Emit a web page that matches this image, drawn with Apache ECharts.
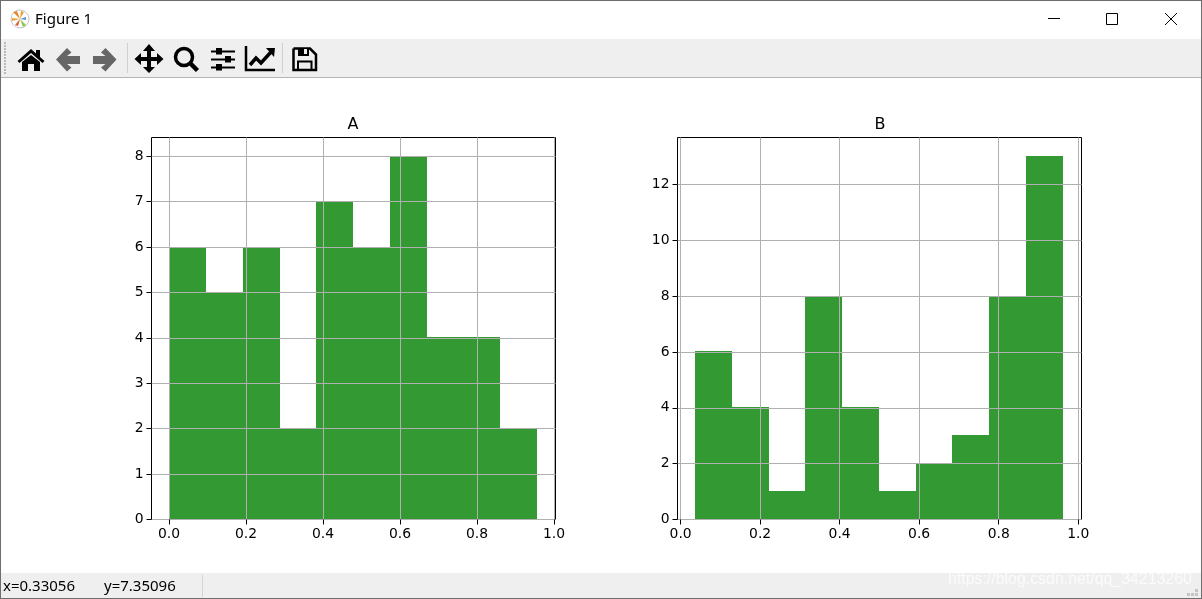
<!DOCTYPE html>
<html>
<head>
<meta charset="utf-8">
<title>Figure 1</title>
<script src="https://cdn.jsdelivr.net/npm/echarts@6/dist/echarts.min.js"></script>
<style>
html, body { margin: 0; padding: 0; background: #fff; overflow: hidden; }
#chart { width: 1202px; height: 599px; }
</style>
</head>
<body>
<div id="chart"></div>
<script>
// histogram bins
const edgesA = [0.0, 0.095, 0.191, 0.287, 0.381, 0.477, 0.573, 0.669, 0.764, 0.860, 0.956];
const countsA = [6, 5, 6, 2, 7, 6, 8, 4, 4, 2];
const edgesB = [0.035, 0.129, 0.222, 0.312, 0.406, 0.499, 0.592, 0.683, 0.776, 0.869, 0.962];
const countsB = [6, 4, 1, 8, 4, 1, 2, 3, 8, 13];

const xTicks = [0, 0.2, 0.4, 0.6, 0.8, 1];
const yTicksA = [0, 1, 2, 3, 4, 5, 6, 7, 8];
const yTicksB = [0, 2, 4, 6, 8, 10, 12];

const barColor = 'rgb(51,153,51)';
const gridColor = '#b0b0b0';
const labelFont = 'DejaVu Sans';

const toBins = (edges, counts) => counts.map((c, i) => [edges[i], edges[i + 1], c]);

// one rectangle per bin, through the axis scales (rounded so neighbours leave no seam)
const renderBin = (params, api) => {
    const p0 = api.coord([api.value(0), api.value(2)]);
    const p1 = api.coord([api.value(1), 0]);
    const x0 = Math.round(p0[0]);
    const y0 = Math.floor(p0[1]);
    return {
        type: 'rect',
        shape: { x: x0, y: y0, width: Math.round(p1[0]) - x0, height: Math.floor(p1[1]) - y0 },
        style: { fill: barColor }
    };
};

const makeX = (gridIndex, min, max) => ({
    type: 'value', gridIndex, min, max, z: 5,
    axisLine: { show: false, onZero: false },
    axisTick: { show: true, length: 5, customValues: xTicks, lineStyle: { color: '#000' } },
    axisLabel: {
        margin: 8, color: '#000', fontFamily: labelFont, fontSize: 13.9,
        customValues: xTicks, formatter: v => v.toFixed(1)
    },
    splitLine: { show: true, customValues: xTicks, lineStyle: { color: gridColor, width: 1 } }
});

const makeY = (gridIndex, max, ticks) => ({
    type: 'value', gridIndex, min: 0, max, z: 5,
    axisLine: { show: false, onZero: false },
    axisTick: { show: true, length: 5, customValues: ticks, lineStyle: { color: '#000' } },
    axisLabel: {
        margin: 8, color: '#000', fontFamily: labelFont, fontSize: 13.9,
        customValues: ticks
    },
    splitLine: { show: true, customValues: ticks, lineStyle: { color: gridColor, width: 1 } }
});

// window frame, toolbar and status bar
const rect = (x, y, width, height, fill) => ({
    type: 'rect', silent: true, shape: { x, y, width, height }, style: { fill }
});
const poly = (points, fill) => ({
    type: 'polygon', silent: true, shape: { points }, style: { fill }
});
const stroke = (points, color, lineWidth) => ({
    type: 'polyline', silent: true, shape: { points }, style: { fill: 'none', stroke: color, lineWidth }
});
const label = (text, x, y, fontSize, fill, fontFamily) => ({
    type: 'text', silent: true, x, y,
    style: { text, fontSize, fill, fontFamily: fontFamily || 'Noto Sans', textVerticalAlign: 'middle' }
});

const gripDots = [];
for (let y = 42; y <= 72; y += 3) gripDots.push(rect(4, y, 2, 2, '#b9b9b9'));
const cornerDots = [[1195, 589], [1191, 593], [1195, 593], [1187, 593]].map(d => rect(d[0], d[1], 3, 3, '#c4c4c4'));

const chrome = [
    rect(0, 39, 1202, 38, '#efefef'),
    rect(0, 77, 1202, 1, '#b4b4b4'),
    rect(0, 573, 1202, 25, '#efefef'),
    rect(0, 0, 1202, 1, '#6e6e6e'),
    rect(0, 598, 1202, 1, '#6e6e6e'),
    rect(0, 0, 1, 599, '#6e6e6e'),
    rect(1201, 0, 1, 599, '#6e6e6e'),
    rect(127, 43, 1, 30, '#cfcfcf'),
    rect(282, 43, 1, 30, '#cfcfcf'),
    rect(202, 575, 1, 22, '#d4d4d4'),
    ...gripDots,
    ...cornerDots,

    // logo
    { type: 'circle', silent: true, shape: { cx: 20, cy: 19, r: 9 }, style: { fill: '#fff', stroke: '#c4c4c4', lineWidth: 1 } },
    poly([[20, 19], [13, 12], [17, 11]], '#e8862a'),
    poly([[20, 19], [21, 11], [24, 12]], '#e8a030'),
    poly([[20, 19], [12, 21], [12, 18]], '#f0a030'),
    poly([[20, 19], [26, 25], [23, 27]], '#8cc84a'),
    poly([[20, 19], [26, 17], [26, 20]], '#5a8fd0'),
    poly([[20, 19], [18, 26], [15, 25]], '#d8602a'),
    label('Figure 1', 35, 20, 15, '#000'),

    // window buttons
    rect(1048, 18, 12, 1, '#000'),
    stroke([[1106.5, 13.5], [1117.5, 13.5], [1117.5, 24.5], [1106.5, 24.5], [1106.5, 13.5]], '#000', 1),
    stroke([[1165, 13], [1177, 25]], '#000', 1),
    stroke([[1177, 13], [1165, 25]], '#000', 1),

    // home
    poly([[31, 49], [36, 53.5], [36, 50], [40, 50], [40, 57], [44.5, 61], [42.5, 63], [31, 53], [19.5, 63], [17.5, 61]], '#000'),
    poly([[22, 62], [31, 55], [40, 62], [40, 71], [34, 71], [34, 64], [28, 64], [28, 71], [22, 71]], '#000'),
    // back / forward
    poly([[56, 59.5], [67, 48], [71.5, 52.5], [67, 56], [80, 56], [80, 64], [67, 64], [71.5, 67.5], [67, 71.5]], '#666'),
    poly([[116.5, 59.5], [105.5, 48], [101, 52.5], [105.5, 56], [93, 56], [93, 64], [105.5, 64], [101, 67.5], [105.5, 71.5]], '#666'),
    // pan
    poly([[149, 44], [155, 51], [151, 51], [151, 57], [157, 57], [157, 53], [163.5, 59], [157, 65], [157, 61], [151, 61], [151, 67], [155, 67], [149, 73], [143, 67], [147, 67], [147, 61], [141, 61], [141, 65], [134.5, 59], [141, 53], [141, 57], [147, 57], [147, 51], [143, 51]], '#000'),
    // zoom
    { type: 'circle', silent: true, shape: { cx: 184, cy: 57, r: 8.5 }, style: { fill: 'none', stroke: '#000', lineWidth: 3.5 } },
    stroke([[190, 63], [197.5, 70.5]], '#000', 4.5),
    // subplots
    rect(211, 50.5, 24, 2, '#000'),
    rect(211, 58.5, 24, 2, '#000'),
    rect(211, 66.5, 24, 2, '#000'),
    rect(216, 48, 6, 6.5, '#000'),
    rect(225, 56, 6, 6.5, '#000'),
    rect(216, 64, 6, 6.5, '#000'),
    // edit curves
    stroke([[246, 46], [246, 70], [275, 70]], '#000', 2.5),
    stroke([[250, 65], [256, 58], [261, 63], [271, 52]], '#000', 3.5),
    poly([[266, 48], [275, 48], [274, 57]], '#000'),
    // save
    stroke([[293.5, 48.5], [310, 48.5], [316, 54.5], [316, 70], [293.5, 70], [293.5, 48.5]], '#000', 2.5),
    rect(298, 48, 11, 8, '#000'),
    rect(304, 49, 3, 5, '#efefef'),
    stroke([[298, 70], [298, 61.5], [311.5, 61.5], [311.5, 70]], '#000', 2),

    // status bar
    label('x=0.33056', 3, 587, 15, '#000'),
    label('y=7.35096', 104, 587, 15, '#000'),
    label('https://blog.csdn.net/qq_34213260', 948, 580, 15.9, 'rgba(255,255,255,0.75)', 'Liberation Sans')
];
chrome.forEach(el => { el.z = 10; });

const myChart = echarts.init(document.getElementById('chart'), null, { renderer: 'canvas' });
myChart.setOption({
    animation: false,
    backgroundColor: '#fff',
    title: [
        { text: 'A', left: 348, top: 112, textAlign: 'center', textStyle: { color: '#000', fontFamily: labelFont, fontSize: 16, fontWeight: 'normal' } },
        { text: 'B', left: 875, top: 112, textAlign: 'center', textStyle: { color: '#000', fontFamily: labelFont, fontSize: 16, fontWeight: 'normal' } }
    ],
    grid: [
        { left: 151.5, top: 137.5, width: 404, height: 382, show: true, borderColor: '#000', borderWidth: 1, backgroundColor: '#fff' },
        { left: 677.5, top: 137.5, width: 404, height: 382, show: true, borderColor: '#000', borderWidth: 1, backgroundColor: '#fff' }
    ],
    xAxis: [makeX(0, -0.0455, 1.0039), makeX(1, -0.0078, 1.0083)],
    yAxis: [makeY(0, 8.415, yTicksA), makeY(1, 13.68, yTicksB)],
    series: [
        { type: 'custom', xAxisIndex: 0, yAxisIndex: 0, renderItem: renderBin, data: toBins(edgesA, countsA), encode: { x: [0, 1], y: 2 } },
        { type: 'custom', xAxisIndex: 1, yAxisIndex: 1, renderItem: renderBin, data: toBins(edgesB, countsB), encode: { x: [0, 1], y: 2 } }
    ],
    graphic: { elements: chrome }
});
</script>
</body>
</html>
